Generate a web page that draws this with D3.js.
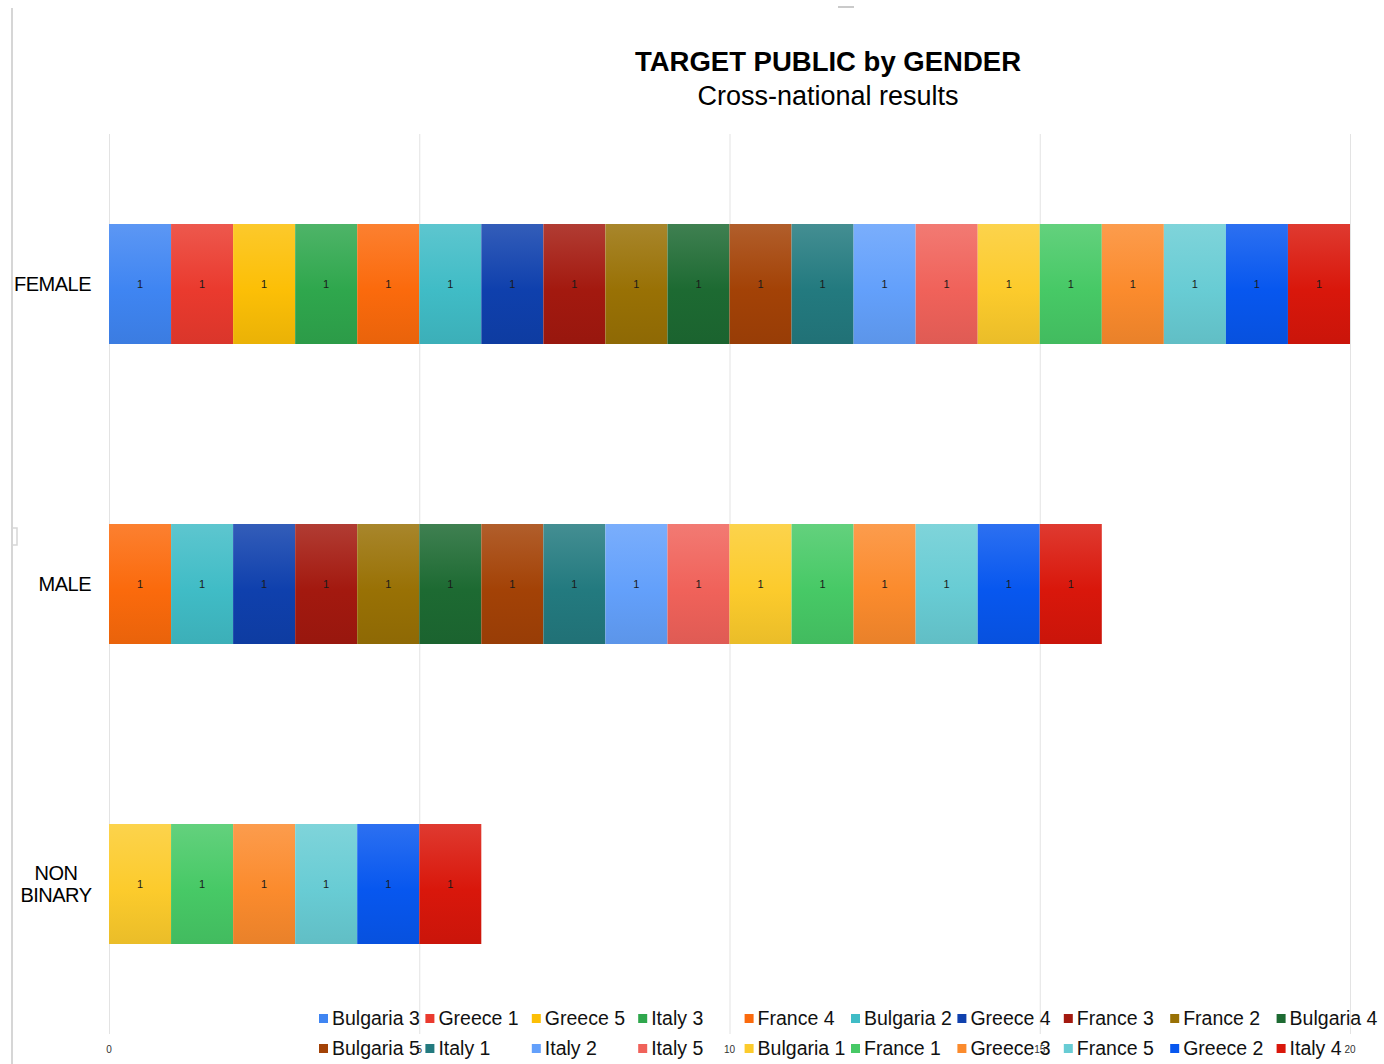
<!DOCTYPE html>
<html>
<head>
<meta charset="utf-8">
<script src="https://cdn.jsdelivr.net/npm/d3@7/dist/d3.min.js"></script>
<style>
  body { margin: 0; background: #fff; }
  svg text { font-family: "Liberation Sans", Arial, Helvetica, sans-serif; }
</style>
</head>
<body>
<div id="chart"></div>
<script>
// Data
const categories = ["FEMALE", "MALE", "NON BINARY"];
const seriesNames = [
  "Bulgaria 3", "Greece 1", "Greece 5", "Italy 3", "France 4",
  "Bulgaria 2", "Greece 4", "France 3", "France 2", "Bulgaria 4",
  "Bulgaria 5", "Italy 1", "Italy 2", "Italy 5", "Bulgaria 1",
  "France 1", "Greece 3", "France 5", "Greece 2", "Italy 4"
];
// one value per series, per category (FEMALE, MALE, NON BINARY)
const femaleValues = [1, 1, 1, 1, 1, 1, 1, 1, 1, 1, 1, 1, 1, 1, 1, 1, 1, 1, 1, 1];
const maleValues = [0, 0, 0, 0, 1, 1, 1, 1, 1, 1, 1, 1, 1, 1, 1, 1, 1, 1, 1, 1];
const nonBinaryValues = [0, 0, 0, 0, 0, 0, 0, 0, 0, 0, 0, 0, 0, 0, 1, 1, 1, 1, 1, 1];
const xTicks = [0, 5, 10, 15, 20];
const seriesColors = [
  "#3f85f2", "#ea3a2e", "#fcbf06", "#2fa74d", "#fb6a0c",
  "#40bcc6", "#0f40ad", "#a3190f", "#997105", "#1d6a32",
  "#a34206", "#237a7f", "#63a0fb", "#f0625a", "#fccb2c",
  "#47c966", "#fb8b2d", "#68ccd4", "#0757ef", "#d9170b"
];

// Constants
const width = 1384;
const height = 1064;
const plotLeft = 109, plotRight = 1350, plotTop = 134, plotBottom = 1034;

const svg = d3
  .select("#chart")
  .append("svg")
  .attr("width", width)
  .attr("height", height);

const table = categories.map(function (c, i) {
  const vals = [femaleValues, maleValues, nonBinaryValues][i];
  const row = { category: c };
  seriesNames.forEach(function (s, j) { row[s] = vals[j]; });
  return row;
});
const stacked = d3.stack().keys(seriesNames)(table);

//-----------------------------SCALES-----------------------------//
const xScale = d3.scaleLinear().domain([0, 20]).range([plotLeft, plotRight]);
const yScale = d3
  .scaleBand()
  .domain(categories)
  .range([plotTop, plotBottom])
  .paddingInner(0.6)
  .paddingOuter(0.3);

//---------------------------GRADIENTS----------------------------//
const defs = svg.append("defs");
seriesColors.forEach(function (c, i) {
  const g = defs
    .append("linearGradient")
    .attr("id", "grad" + i)
    .attr("x1", 0).attr("y1", 0).attr("x2", 0).attr("y2", 1);
  g.append("stop").attr("offset", "0%").attr("stop-color", d3.interpolateRgb(c, "#fff")(0.15));
  g.append("stop").attr("offset", "55%").attr("stop-color", c);
  g.append("stop").attr("offset", "100%").attr("stop-color", d3.interpolateRgb(c, "#000")(0.07));
});

//----------------------------FRAME------------------------------//
svg.append("line")
  .attr("x1", 12).attr("x2", 12).attr("y1", 8).attr("y2", height)
  .style("stroke", "#d6d6d6").style("stroke-width", 2);
svg.append("path")
  .attr("d", "M12,528 H17 V545 H12")
  .style("fill", "none")
  .style("stroke", "#d6d6d6").style("stroke-width", 1.5);
svg.append("line")
  .attr("x1", 838).attr("x2", 854).attr("y1", 7).attr("y2", 7)
  .style("stroke", "#b8b8b8").style("stroke-width", 1.5);

//-----------------------------GRID------------------------------//
svg.append("g")
  .selectAll("line")
  .data(xTicks)
  .enter()
  .append("line")
  .attr("x1", function (d) { return xScale(d) + 0.5; })
  .attr("x2", function (d) { return xScale(d) + 0.5; })
  .attr("y1", plotTop)
  .attr("y2", plotBottom)
  .style("stroke", "#e3e3e3")
  .style("stroke-width", 1);

//-----------------------------TITLE------------------------------//
svg.append("text")
  .attr("x", 828).attr("y", 71)
  .attr("text-anchor", "middle")
  .style("font-size", "27.5px")
  .style("font-weight", "bold")
  .text("TARGET PUBLIC by GENDER");
svg.append("text")
  .attr("x", 828).attr("y", 105)
  .attr("text-anchor", "middle")
  .style("font-size", "27px")
  .text("Cross-national results");

//-----------------------------BARS------------------------------//
const layers = svg.append("g")
  .selectAll("g")
  .data(stacked)
  .enter()
  .append("g");

layers.selectAll("rect")
  .data(function (d) {
    return d.filter(function (p) { return p[1] > p[0]; })
      .map(function (p) { return { p: p, key: d.key, index: d.index }; });
  })
  .enter()
  .append("rect")
  .attr("x", function (d) { return xScale(d.p[0]); })
  .attr("width", function (d) { return xScale(d.p[1]) - xScale(d.p[0]); })
  .attr("y", function (d) { return yScale(d.p.data.category); })
  .attr("height", yScale.bandwidth())
  .attr("fill", function (d) { return "url(#grad" + d.index + ")"; });

layers.selectAll("text")
  .data(function (d) {
    return d.filter(function (p) { return p[1] > p[0]; });
  })
  .enter()
  .append("text")
  .attr("x", function (p) { return xScale((p[0] + p[1]) / 2); })
  .attr("y", function (p) { return yScale(p.data.category) + yScale.bandwidth() / 2 + 4; })
  .attr("text-anchor", "middle")
  .style("font-size", "11px")
  .style("fill", "#1a1a1a")
  .text(function (p) { return p[1] - p[0]; });

//---------------------------Y LABELS----------------------------//
const yLabels = svg.append("g");
categories.forEach(function (c) {
  const words = c.split(" ");
  const cy = yScale(c) + yScale.bandwidth() / 2;
  if (words.length === 1) {
    yLabels.append("text")
      .attr("x", 91).attr("y", cy + 7)
      .attr("text-anchor", "end")
      .style("font-size", "20px")
      .style("letter-spacing", "-0.5px")
      .text(c);
  } else {
    const t = yLabels.append("text")
      .attr("text-anchor", "middle")
      .style("font-size", "20px")
      .style("letter-spacing", "-0.5px");
    words.forEach(function (w, k) {
      t.append("tspan")
        .attr("x", 56)
        .attr("y", cy - 4 + k * 22)
        .text(w);
    });
  }
});

//---------------------------X TICKS------------------------------//
svg.append("g")
  .selectAll("text")
  .data(xTicks)
  .enter()
  .append("text")
  .attr("x", function (d) { return xScale(d); })
  .attr("y", 1053)
  .attr("text-anchor", "middle")
  .style("font-size", "10px")
  .style("fill", "#333")
  .text(function (d) { return d; });

//----------------------------LEGEND------------------------------//
const legendX = d3.scaleLinear().domain([0, 10]).range([319, 1383]);
const legend = svg.append("g")
  .selectAll("g")
  .data(seriesNames)
  .enter()
  .append("g")
  .attr("transform", function (d, i) {
    return "translate(" + legendX(i % 10) + "," + (1018 + Math.floor(i / 10) * 30) + ")";
  });

legend.append("rect")
  .attr("x", 0).attr("y", -4)
  .attr("width", 9).attr("height", 9)
  .attr("fill", function (d, i) { return seriesColors[i]; });

legend.append("text")
  .attr("x", 13).attr("y", 7)
  .style("font-size", "19.5px")
  .style("fill", "#111")
  .text(function (d) { return d; });
</script>
</body>
</html>
